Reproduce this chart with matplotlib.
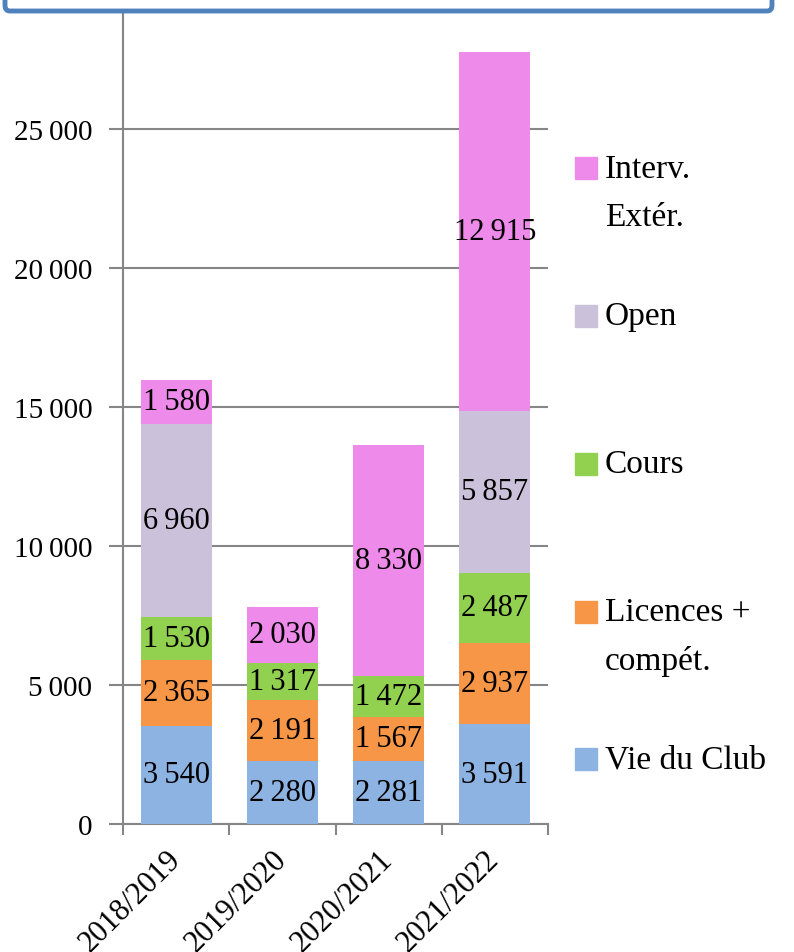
import matplotlib.pyplot as plt
import numpy as np
from matplotlib.patches import Rectangle, FancyBboxPatch

plt.rcParams['font.family'] = ['Liberation Serif', 'DejaVu Serif']

# Data
seasons = ['2018/2019', '2019/2020', '2020/2021', '2021/2022']
vie_club = [3540, 2280, 2281, 3591]
licences = [2365, 2191, 1567, 2937]
cours = [1530, 1317, 1472, 2487]
open_ = [6960, 0, 0, 5857]
interv = [1580, 2030, 8330, 12915]

series = [
    ('Vie du Club', vie_club, '#8DB3E2'),
    ('Licences +\ncompét.', licences, '#F79646'),
    ('Cours', cours, '#92D050'),
    ('Open', open_, '#CCC1DA'),
    ('Interv.\nExtér.', interv, '#EE8AEA'),
]

W, H = 794, 953
fig = plt.figure(figsize=(W / 100, H / 100), dpi=100)
# axes placed in pixel terms: x 123..548, y=0 at 825, 30000 at -9
ax = fig.add_axes([123 / W, 1 - 825 / H, (548 - 123) / W, 834 / H])

x = np.arange(len(seasons))
bottom = np.zeros(len(seasons))
for name, vals, color in series:
    bars = ax.bar(x, vals, width=0.67, bottom=bottom, color=color, zorder=3)
    labels = [f'{v:,}'.replace(',', '\u2009') if v else '' for v in vals]
    ax.bar_label(bars, labels=labels, label_type='center', fontsize=22, zorder=4)
    bottom += np.array(vals)

ax.set_xlim(-0.5, len(seasons) - 0.5)
ax.set_ylim(0, 30000)
ax.set_yticks(np.arange(0, 30001, 5000))
ax.set_yticklabels([f'{v:,}'.replace(',', '\u2009') for v in range(0, 30001, 5000)])
ax.yaxis.grid(True, color='#868686', linewidth=1.5, zorder=0)

ax.set_xticks(x)
ax.set_xticklabels(seasons, rotation=45, ha='right', va='center', rotation_mode='anchor')
ax.set_xticks(np.arange(-0.5, len(seasons)), minor=True)
ax.tick_params(axis='x', which='major', length=0, pad=22, labelsize=22)
ax.tick_params(axis='x', which='minor', length=8, width=1.5, color='#868686', direction='out')
ax.tick_params(axis='y', length=10, width=1.5, color='#868686', direction='out', pad=12, labelsize=21)

for s in ['top', 'right']:
    ax.spines[s].set_visible(False)
for s in ['left', 'bottom']:
    ax.spines[s].set_color('#868686')
    ax.spines[s].set_linewidth(1.5)

# legend drawn by hand (top to bottom)
leg_y = [169, 317, 465, 613, 760]
for (name, vals, color), yc in zip(series[::-1], leg_y):
    fig.add_artist(Rectangle(((575) / W, 1 - (yc + 11) / H), 22 / W, 22 / H,
                             transform=fig.transFigure, color=color))
    fig.text(605 / W, 1 - (yc - 15) / H, name, fontsize=24, va='top', ha='left',
             linespacing=1.75)

# cut-off title box at the top
fig.add_artist(FancyBboxPatch((5 / W, 1 - 12 / H), 767 / W, 60 / H,
                              boxstyle='round,pad=0,rounding_size=0.006',
                              transform=fig.transFigure, facecolor='white',
                              edgecolor='#4F81BD', linewidth=3.5, zorder=10))

fig.savefig('out.png', dpi=100)
